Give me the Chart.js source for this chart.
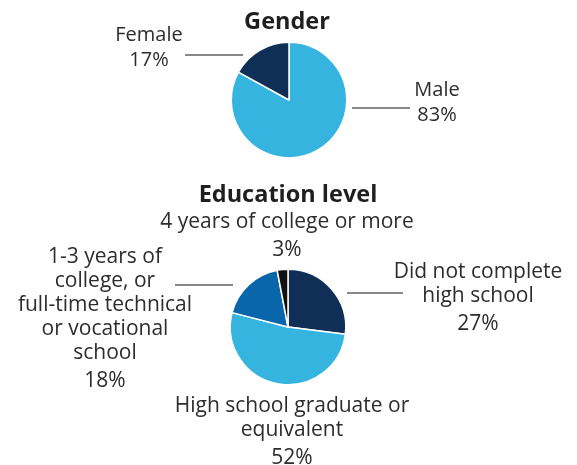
<!DOCTYPE html>
<html>
<head>
<meta charset="utf-8">
<script src="https://cdn.jsdelivr.net/npm/chart.js@4.4.1/dist/chart.umd.min.js"></script>
<style>
  html, body { margin: 0; padding: 0; background: #fff; }
  #wrap { position: relative; width: 577px; height: 465px; overflow: hidden; font-family: "Open Sans", sans-serif; }
  #wrap canvas { position: absolute; left: 0; top: 0; }
  .txt { position: absolute; white-space: nowrap; line-height: 1; transform: translateX(-50%); color: #2d2d2d; }
  .title { font-weight: 700; color: #1f1f1f; }
</style>
</head>
<body>
<div id="wrap">
  <canvas id="gender" width="577" height="465"></canvas>
  <canvas id="education" width="577" height="465"></canvas>
</div>
<script>
// data
const genderTitle = "Gender";
const genderCategories = [["Male"], ["Female"]];
const genderValues = [83, 17];
const genderColors = ["#36B4E0", "#0F2F56"];

const educationTitle = "Education level";
const educationCategories = [
  ["Did not complete", "high school"],
  ["High school graduate or", "equivalent"],
  ["1-3 years of", "college, or", "full-time technical", "or vocational", "school"],
  ["4 years of college or more"],
];
const educationValues = [27, 52, 18, 3];
const educationColors = ["#0F2F56", "#36B4E0", "#0A66AA", "#111111"];

// layout (page px): label anchors = center x, first baseline
const genderLayout = {
  center: [289, 100], radius: 58.5, fontSize: 20, step: 25, pctStep: 25,
  title: [287, 30],
  labels: [[437, 97], [149, 42]],
  leaders: [[352, 410, 108], [185, 243, 55]],
};
const educationLayout = {
  center: [288, 327], radius: 58.5, fontSize: 21, step: 24, pctStep: 28,
  title: [288, 203],
  labels: [[478, 279], [292, 413], [105, 264], [287, 229]],
  leaders: [[347, 403, 293], [175, 233, 285]],
};

const wrap = document.getElementById("wrap");

function addText(text, x, baseline, size, cls) {
  const d = document.createElement("div");
  d.className = "txt" + (cls ? " " + cls : "");
  d.style.fontSize = size + "px";
  d.style.left = x + "px";
  d.style.top = (baseline - 0.888 * size) + "px";
  d.textContent = text;
  wrap.appendChild(d);
}

const leaderPlugin = {
  id: "leaders",
  afterDraw(chart, args, opts) {
    const ctx = chart.ctx;
    ctx.save();
    ctx.strokeStyle = "#606060";
    ctx.lineWidth = 1.6;
    opts.lines.forEach(([x1, x2, y]) => {
      ctx.beginPath();
      ctx.moveTo(x1, y);
      ctx.lineTo(x2, y);
      ctx.stroke();
    });
    ctx.restore();
  },
};

function makePie(id, title, categories, values, colors, lay) {
  const [cx, cy] = lay.center;
  const r = lay.radius;
  new Chart(document.getElementById(id), {
    type: "pie",
    data: {
      labels: categories.map((c) => c.join(" ")),
      datasets: [{
        data: values,
        backgroundColor: colors,
        borderColor: "#ffffff",
        borderWidth: 1.5,
      }],
    },
    options: {
      responsive: false,
      animation: false,
      events: [],
      layout: {
        padding: { left: cx - r, right: 577 - cx - r, top: cy - r, bottom: 465 - cy - r },
      },
      plugins: {
        legend: { display: false },
        tooltip: { enabled: false },
        leaders: { lines: lay.leaders },
      },
    },
    plugins: [leaderPlugin],
  });

  addText(title, lay.title[0], lay.title[1], 23.5, "title");
  categories.forEach((lines, i) => {
    const [x, y0] = lay.labels[i];
    let y = y0;
    lines.forEach((t, j) => {
      if (j > 0) y += lay.step;
      addText(t, x, y, lay.fontSize);
    });
    addText(values[i] + "%", x, y + lay.pctStep, lay.fontSize);
  });
}

makePie("gender", genderTitle, genderCategories, genderValues, genderColors, genderLayout);
makePie("education", educationTitle, educationCategories, educationValues, educationColors, educationLayout);
</script>
</body>
</html>
